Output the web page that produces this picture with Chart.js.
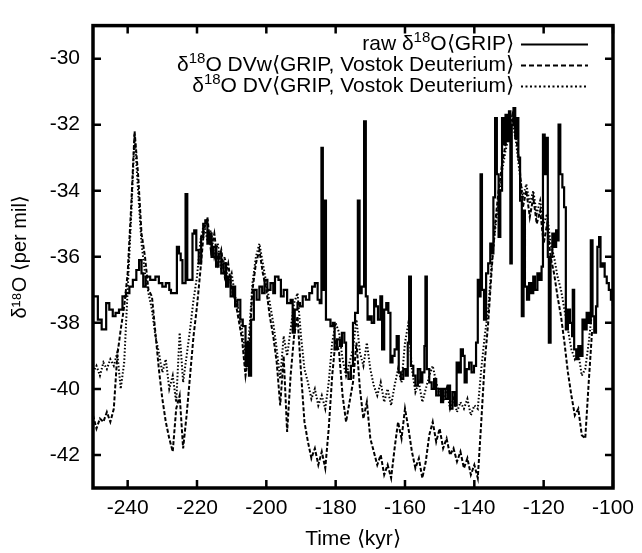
<!DOCTYPE html>
<html><head><meta charset="utf-8">
<script src="https://cdn.jsdelivr.net/npm/chart.js@4.4.1/dist/chart.umd.min.js"></script>
<style>html,body{margin:0;padding:0;background:#fff;}#wrap{width:642px;height:553px;}</style>
</head><body><div id="wrap"><canvas id="c" width="642" height="553"></canvas></div>
<script>
// ---- data ----
const rawTime = [-250,-248.6,-247.5,-246.2,-245.3,-244.3,-243.5,-242.5,-241.5,-240.5,-239.5,-238.5,-237.5,-236.7,-236,-235.5,-234.8,-233.5,-232,-231,-230,-229,-228,-227.5,-226.3,-225.8,-225.2,-224.7,-224.2,-223.3,-222.8,-222,-221.3,-220.8,-220.2,-219.5,-218.8,-218.2,-217.6,-217,-216.4,-215.8,-215.2,-214.5,-213.8,-213,-212.3,-211.6,-211,-210.3,-209.6,-209,-208.3,-207.5,-206.8,-206,-205.5,-205,-204.4,-203.6,-202.8,-202,-201.2,-200.5,-199.7,-198.8,-198,-197.5,-196.5,-195.8,-195,-194,-193,-192.4,-191.8,-191,-190.3,-189.5,-188.6,-187.6,-186.8,-186,-185.2,-184.6,-184.1,-183.7,-183.2,-182.8,-182.2,-181.5,-180.8,-180.3,-179.6,-178.8,-178.2,-177.5,-177,-176.3,-175.6,-175,-174.4,-173.6,-173.1,-172.5,-171.8,-171.3,-170.8,-170.2,-169.6,-168.9,-168.4,-167.8,-167.1,-166.6,-166,-165.4,-164.8,-164.2,-163.6,-163,-162.4,-161.8,-161.2,-160.5,-159.8,-159.2,-158.8,-158.3,-157.6,-157,-156.3,-155.6,-155,-154.4,-154.1,-153.7,-153,-152.3,-151.6,-151,-150.3,-149.6,-149,-148.3,-147.6,-147,-146.3,-145.6,-145.1,-144.5,-143.9,-143.3,-142.8,-142.2,-141.5,-140.8,-140.1,-139.5,-139,-138.5,-138.2,-137.8,-137.2,-136.6,-136,-135.4,-135,-134.5,-134,-133.5,-133,-132.5,-132,-131.5,-131,-130.5,-130,-129.6,-129.2,-128.7,-128.2,-127.7,-127.3,-126.8,-126.3,-125.8,-125.4,-124.8,-124.2,-123.6,-123,-122.5,-121.8,-121.2,-120.6,-120.2,-119.7,-119.2,-118.8,-118.5,-118,-117.5,-117,-116.4,-115.9,-115.7,-115.2,-114.6,-114.1,-113.6,-113,-112.4,-111.8,-111.6,-111.2,-110.6,-110,-109.4,-108.8,-108.2,-107.6,-107,-106.4,-105.9,-105.4,-104.9,-104.5,-104,-103.6,-103,-102.4,-101.8,-101.2,-100.6,-100];
const rawValues = [-37.2,-37.9,-38.2,-37.4,-37.6,-37.8,-37.7,-37.6,-37.2,-37.1,-36.9,-36.7,-36.4,-36.1,-36.5,-36.9,-36.6,-36.7,-36.6,-36.8,-36.9,-36.8,-37.0,-37.1,-37.1,-35.7,-35.9,-36.1,-36.8,-34.1,-36.7,-36.7,-35.3,-35.2,-35.8,-36.2,-35.4,-35.0,-34.9,-35.6,-35.3,-36.0,-35.7,-36.3,-35.9,-36.5,-36.2,-36.9,-36.6,-37.2,-36.9,-37.5,-37.3,-37.9,-38.1,-39.3,-38.6,-39.6,-37.9,-37.0,-37.3,-36.9,-37.1,-36.7,-37.0,-36.8,-37.1,-36.6,-36.7,-37.2,-37.0,-37.4,-37.3,-38.3,-37.6,-37.4,-37.5,-37.2,-37.3,-37.1,-36.9,-36.8,-37.3,-37.4,-32.7,-37.0,-34.3,-37.9,-37.9,-38.1,-38.0,-38.8,-38.5,-38.7,-38.3,-38.6,-39.5,-39.7,-39.3,-38.0,-37.7,-34.3,-37.1,-36.9,-31.9,-37.2,-37.9,-37.8,-38.0,-37.3,-37.5,-37.9,-37.2,-38.8,-37.6,-37.4,-37.7,-39.2,-39.0,-38.8,-38.4,-39.5,-39.7,-39.4,-39.6,-38.6,-36.6,-39.3,-39.6,-39.9,-39.4,-39.8,-39.5,-38.7,-36.6,-39.4,-39.8,-40.0,-39.7,-40.2,-40.0,-40.4,-40.0,-40.3,-39.9,-40.6,-40.1,-40.5,-39.2,-39.5,-38.8,-39.0,-39.8,-39.4,-39.2,-39.5,-39.3,-38.6,-36.7,-37.2,-33.5,-37.0,-37.9,-36.5,-36.2,-35.6,-35.9,-34.2,-31.8,-33.5,-35.4,-34.0,-31.8,-32.6,-31.7,-32.5,-31.6,-36.2,-32.0,-31.5,-32.4,-31.8,-33.0,-34.3,-37.8,-34.6,-36.9,-37.3,-36.8,-37.1,-36.6,-37.0,-36.5,-36.7,-36.3,-32.3,-33.5,-32.4,-36.0,-38.6,-36.0,-35.3,-35.7,-35.2,-35.5,-32.0,-33.5,-33.9,-34.5,-38.2,-37.6,-38.0,-38.4,-37.0,-38.8,-39.1,-38.7,-39.0,-37.9,-38.2,-37.7,-38.0,-35.5,-37.8,-38.3,-37.5,-35.7,-35.4,-36.3,-36.2,-36.6,-36.8,-37.0,-37.3,-37.5];
const dvTime = [-250,-249,-248,-247,-246,-245,-244,-243,-242,-241,
 -240,-239,-238,-237,-236,-235,-234,-233,-232,-231,
 -230,-229,-228,-227,-226,-225,-224,-223,-222,-221,
 -220,-219,-218,-217,-216,-215,-214,-213,-212,-211,
 -210,-209,-208,-207,-206,-205,-204,-203,-202,-201,
 -200,-199,-198,-197,-196,-195,-194,-193,-192,-191,
 -190,-189,-188,-187,-186,-185,-184,-183,-182,-181,
 -180,-179,-178,-177,-176,-175,-174,-173,-172,-171,
 -170,-169,-168,-167,-166,-165,-164,-163,-162,-161,
 -160,-159,-158,-157,-156,-155,-154,-153,-152,-151,
 -150,-149,-148,-147,-146,-145,-144,-143,-142,-141,
 -140,-139,-138,-137,-136,-135,-134,-133,-132,-131,
 -130,-129,-128,-127,-126,-125,-124,-123,-122,-121,
 -120,-119,-118,-117,-116,-115,-114,-113,-112,-111,
 -110,-109,-108,-107,-106];
const dvwValues = [-40.8,-41.2,-40.9,-41.0,-40.7,-41.0,-40.6,-39.0,-38.2,-37.5,
 -36.5,-34.5,-32.2,-33.5,-35.3,-36.0,-37.0,-37.2,-38.3,-39.4,
 -40.3,-41.0,-41.5,-41.9,-40.6,-40.2,-41.8,-40.8,-39.6,-38.4,
 -37.5,-36.4,-35.2,-34.8,-35.8,-35.3,-36.2,-35.8,-36.6,-36.2,
 -37.0,-37.3,-37.9,-38.5,-39.6,-38.9,-37.0,-36.2,-35.8,-36.5,
 -37.0,-37.8,-38.4,-39.2,-40.5,-39.0,-41.3,-39.6,-38.4,-37.8,
 -39.5,-41.0,-41.6,-42.1,-41.8,-42.3,-41.9,-42.4,-41.2,-39.6,
 -38.5,-38.9,-40.2,-41.0,-40.4,-39.8,-38.6,-40.0,-40.9,-40.4,
 -41.5,-41.9,-42.3,-42.0,-42.6,-42.3,-42.7,-41.8,-41.0,-41.5,
 -40.6,-41.2,-41.9,-42.4,-42.1,-42.7,-42.2,-41.4,-41.0,-41.6,
 -41.2,-41.8,-41.5,-42.0,-41.8,-42.2,-41.9,-42.4,-42.1,-42.6,
 -42.3,-42.7,-41.0,-39.2,-38.0,-36.4,-35.0,-34.0,-33.2,-32.6,
 -32.1,-31.7,-32.3,-33.2,-34.5,-34.0,-34.8,-34.2,-35.0,-34.6,
 -35.6,-35.0,-36.0,-36.5,-37.2,-37.8,-38.6,-39.5,-40.2,-40.8,
 -40.6,-41.4,-41.5,-39.8,-38.2];
const dvValues = [-39.5,-39.3,-39.6,-39.2,-39.4,-39.1,-39.3,-38.9,-40.0,-39.2,
 -37.0,-34.8,-32.3,-34.0,-35.6,-36.5,-37.1,-37.6,-38.4,-38.9,
 -39.5,-39.1,-40.0,-39.6,-40.4,-38.3,-39.8,-39.0,-38.2,-37.3,
 -36.6,-35.5,-35.0,-35.5,-35.2,-36.0,-35.6,-36.4,-36.0,-36.8,
 -36.5,-37.2,-37.6,-38.2,-39.0,-38.4,-36.8,-36.0,-35.6,-36.2,
 -36.8,-37.4,-38.0,-38.8,-39.7,-38.4,-39.0,-38.2,-37.4,-37.1,
 -38.4,-39.4,-39.8,-40.3,-40.0,-40.5,-40.2,-40.6,-39.8,-38.6,
 -38.0,-38.3,-39.1,-39.6,-39.2,-38.8,-37.9,-38.9,-39.3,-38.6,
 -39.4,-39.9,-40.2,-39.8,-40.4,-40.0,-40.5,-39.9,-39.4,-39.8,
 -38.6,-38.0,-39.4,-40.1,-39.8,-40.4,-40.0,-39.6,-39.3,-39.8,
 -40.2,-40.4,-40.0,-40.6,-40.3,-40.7,-40.4,-40.6,-40.3,-40.8,
 -40.5,-40.6,-39.4,-38.4,-37.6,-36.2,-35.2,-34.3,-33.4,-32.8,
 -32.3,-31.9,-32.5,-33.4,-34.2,-33.8,-34.4,-34.0,-34.7,-34.3,
 -35.0,-34.7,-35.6,-36.0,-36.6,-37.0,-37.6,-38.2,-38.8,-39.1,
 -38.9,-39.6,-39.4,-38.6,-37.6];
const xTicks = [-240,-220,-200,-180,-160,-140,-120,-100];
const yTicks = [-42,-40,-38,-36,-34,-32,-30];
const legendParts = [
  ["raw δ","18","O⟨GRIP⟩"],
  ["δ","18","O DVw⟨GRIP, Vostok Deuterium⟩"],
  ["δ","18","O DV⟨GRIP, Vostok Deuterium⟩"]
];
const legendDash = [[], [5,3], [2,2.5]];
const xTitle = "Time ⟨kyr⟩";
const yTitle = "δ¹⁸O ⟨per mil⟩";

// ---- drawing ----
const FONT = "'Liberation Sans', Arial, sans-serif";
const toXY = (xs, ys) => xs.map((t, i) => ({x: t, y: ys[i]}));

const framePlugin = {
  id: 'frame',
  afterDatasetsDraw(chart) {
    const {ctx, chartArea: a, scales: {x, y}} = chart;
    ctx.save();
    ctx.strokeStyle = '#000';
    ctx.lineWidth = 3.5;
    ctx.strokeRect(a.left, a.top, a.right - a.left, a.bottom - a.top);
    ctx.lineWidth = 2.5;
    const L = 8;
    ctx.beginPath();
    xTicks.forEach(v => {
      const px = x.getPixelForValue(v);
      ctx.moveTo(px, a.bottom); ctx.lineTo(px, a.bottom - L);
      ctx.moveTo(px, a.top); ctx.lineTo(px, a.top + L);
    });
    yTicks.forEach(v => {
      const py = y.getPixelForValue(v);
      ctx.moveTo(a.left, py); ctx.lineTo(a.left + L, py);
      ctx.moveTo(a.right, py); ctx.lineTo(a.right - L, py);
    });
    ctx.stroke();
    ctx.restore();
  }
};

const legendPlugin = {
  id: 'gpLegend',
  afterDraw(chart) {
    const {ctx, chartArea: a} = chart;
    const size = 21, sup = 15;
    const textRight = a.right - 99;
    const lineX0 = a.right - 92, lineX1 = a.right - 25;
    const rowY = [a.top + 19, a.top + 40, a.top + 61];
    ctx.save();
    ctx.fillStyle = '#000';
    ctx.textBaseline = 'middle';
    ctx.textAlign = 'left';
    legendParts.forEach((parts, i) => {
      const fonts = [size + 'px ' + FONT, sup + 'px ' + FONT, size + 'px ' + FONT];
      let widths = parts.map((p, k) => { ctx.font = fonts[k]; return ctx.measureText(p).width; });
      let xx = textRight - widths.reduce((s, w) => s + w, 0);
      const yy = rowY[i];
      parts.forEach((p, k) => {
        ctx.font = fonts[k];
        ctx.fillText(p, xx, k === 1 ? yy - 7 : yy);
        xx += widths[k];
      });
      ctx.strokeStyle = '#000';
      ctx.lineWidth = 2;
      ctx.setLineDash(legendDash[i]);
      ctx.beginPath();
      ctx.moveTo(lineX0, yy); ctx.lineTo(lineX1, yy);
      ctx.stroke();
      ctx.setLineDash([]);
    });
    ctx.restore();
  }
};

const bgPlugin = {
  id: 'bg',
  beforeDraw(chart) {
    const {ctx, width, height} = chart;
    ctx.save(); ctx.fillStyle = '#fff'; ctx.fillRect(0, 0, width, height); ctx.restore();
  }
};

new Chart(document.getElementById('c'), {
  type: 'line',
  data: {
    datasets: [
      {label: 'raw', data: toXY(rawTime, rawValues), borderColor: '#000', borderWidth: 2.2, stepped: true, pointRadius: 0, fill: false},
      {label: 'DVw', data: toXY(dvTime, dvwValues), borderColor: '#000', borderWidth: 2, borderDash: [4, 2], pointRadius: 0, fill: false, tension: 0},
      {label: 'DV', data: toXY(dvTime, dvValues), borderColor: '#000', borderWidth: 2, borderDash: [1.5, 2], pointRadius: 0, fill: false, tension: 0}
    ]
  },
  options: {
    responsive: false,
    animation: false,
    devicePixelRatio: 1,
    layout: {padding: {left: 0, right: 21, top: 13, bottom: 0}},
    plugins: {legend: {display: false}, tooltip: {enabled: false}},
    scales: {
      x: {
        type: 'linear', min: -250, max: -100,
        afterBuildTicks: s => { s.ticks = xTicks.map(v => ({value: v})); },
        afterFit: s => { s.height = 65; },
        grid: {display: false, drawTicks: false},
        border: {display: false},
        ticks: {color: '#000', font: {family: FONT, size: 21}, padding: 8, maxRotation: 0, autoSkip: false},
        title: {display: true, text: xTitle, color: '#000', font: {family: FONT, size: 21}, padding: {top: 0, bottom: 1}}
      },
      y: {
        type: 'linear', min: -43, max: -29,
        afterBuildTicks: s => { s.ticks = yTicks.map(v => ({value: v})); },
        afterFit: s => { s.width = 93; },
        grid: {display: false, drawTicks: false},
        border: {display: false},
        ticks: {color: '#000', font: {family: FONT, size: 21}, padding: 13},
        title: {display: true, text: yTitle, color: '#000', font: {family: FONT, size: 20}, padding: {top: 8, bottom: 0}}
      }
    }
  },
  plugins: [bgPlugin, framePlugin, legendPlugin]
});
</script></body></html>
